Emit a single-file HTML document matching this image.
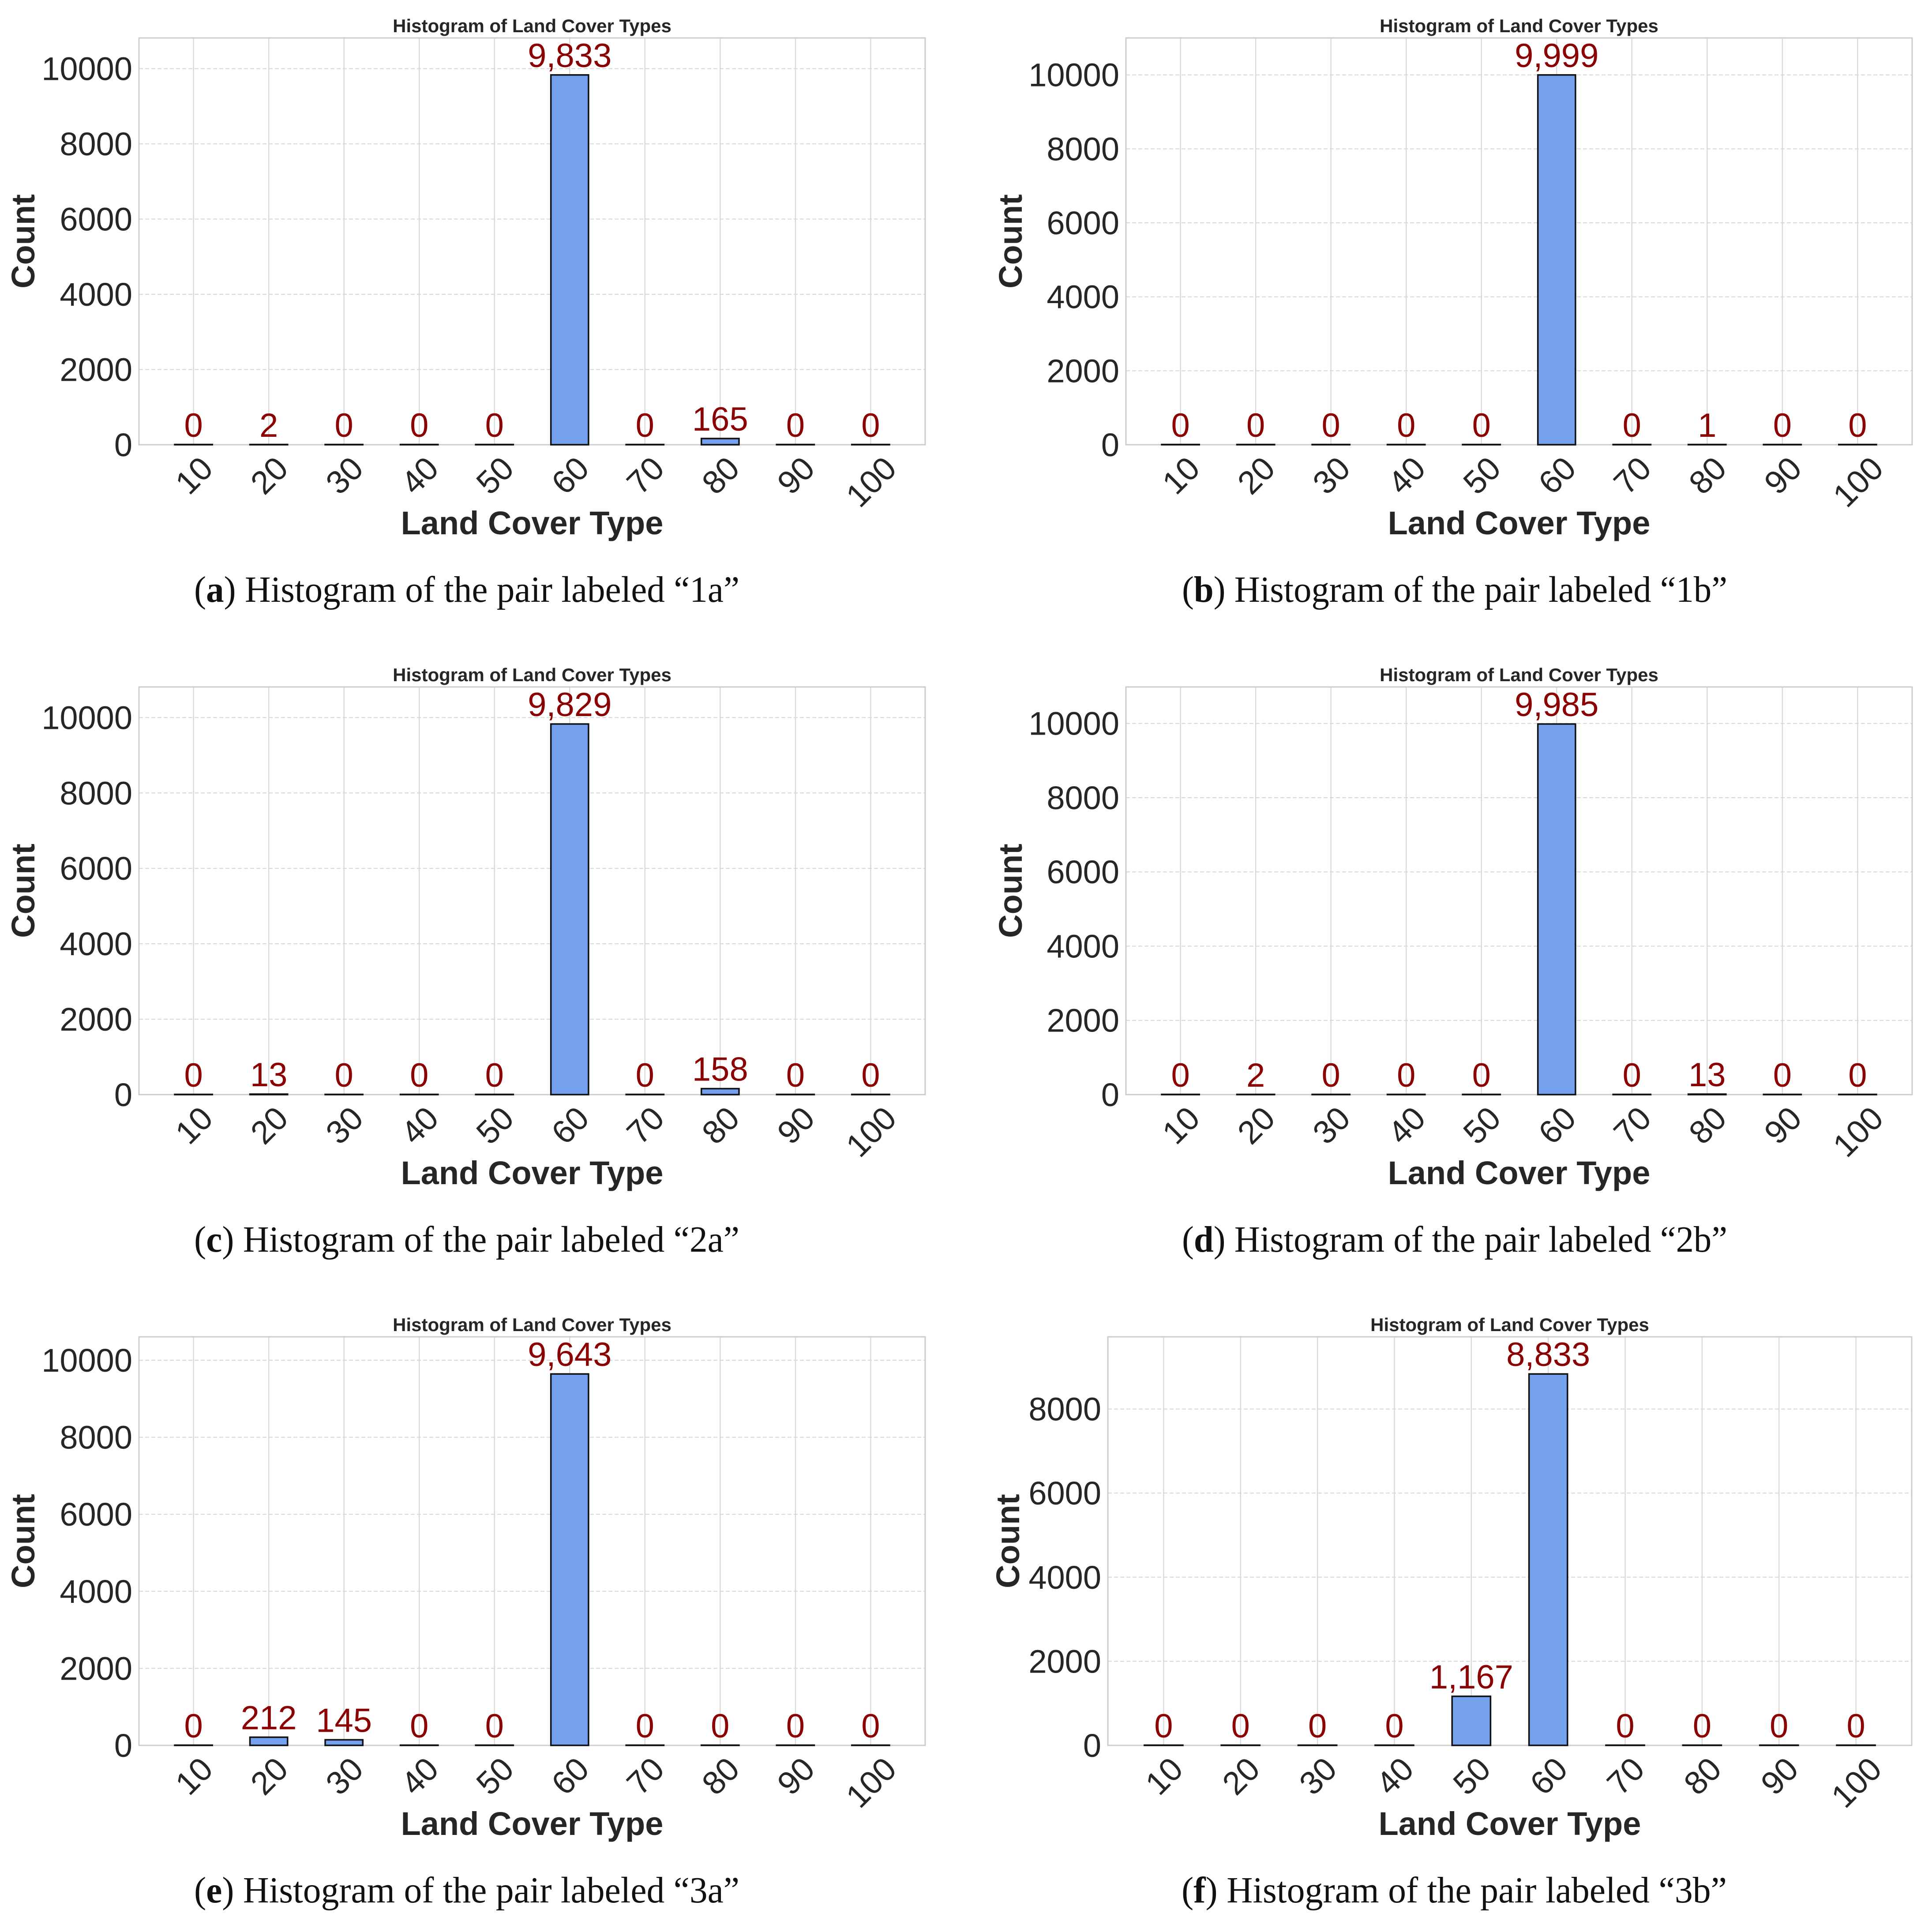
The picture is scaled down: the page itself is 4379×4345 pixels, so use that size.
<!DOCTYPE html>
<html><head><meta charset="utf-8">
<style>
html,body{margin:0;padding:0;background:#fff;}
svg{display:block;}
</style></head>
<body>
<svg id="fig" width="4379" height="4345" viewBox="0 0 4379 4345" xmlns="http://www.w3.org/2000/svg" font-family="'Liberation Sans', Arial, sans-serif"></svg>
<script>
const categories = ["10","20","30","40","50","60","70","80","90","100"];
const values1a = [0,2,0,0,0,9833,0,165,0,0];
const values1b = [0,0,0,0,0,9999,0,1,0,0];
const values2a = [0,13,0,0,0,9829,0,158,0,0];
const values2b = [0,2,0,0,0,9985,0,13,0,0];
const values3a = [0,212,145,0,0,9643,0,0,0,0];
const values3b = [0,0,0,0,1167,8833,0,0,0,0];
const ticks10k = [0,2000,4000,6000,8000,10000];
const ticks8k = [0,2000,4000,6000,8000];
const captionLetters = ["a","b","c","d","e","f"];
const captionLabels = ["1a","1b","2a","2b","3a","3b"];

const NS = "http://www.w3.org/2000/svg";
const svg = document.getElementById("fig");
function mk(tag, attrs, parent){
  const e = document.createElementNS(NS, tag);
  for (const k in attrs) e.setAttribute(k, attrs[k]);
  (parent||svg).appendChild(e);
  return e;
}
function fmt(v){ return v.toLocaleString("en-US"); }

function drawPanel(idx, values, ticks, L, R, T, B, countX, capCx){
  const g = mk("g", {});
  
  
  const n = categories.length;
  const ymax = Math.max(...values) * 1.1;
  const xmin = -0.725, xmax = n - 1 + 0.725;
  const xs = i => L + (i - xmin) / (xmax - xmin) * (R - L);
  const ys = v => B - v / ymax * (B - T);
  const step = xs(1) - xs(0);
  categories.forEach((c, i) => {
    const l = mk("line", {x1: xs(i), x2: xs(i), y1: T, y2: B, stroke: "#d9d9d9", "stroke-width": 2.5}, g);
    
    
  });
  ticks.forEach(t => {
    if (t === 0) return;
    const l = mk("line", {x1: L, x2: R, y1: ys(t), y2: ys(t), stroke: "#d6d6d6", "stroke-width": 2, "stroke-dasharray": "9,5"}, g);
    
    
  });
  const fr = mk("rect", {x: L, y: T, width: R - L, height: B - T, fill: "none", stroke: "#cccccc", "stroke-width": 3}, g);
  
  
  values.forEach((v, i) => {
    const x0 = xs(i) - step * 0.25, w = step * 0.5;
    const y0 = Math.min(ys(v), B - 0.5);
    const b = mk("rect", {x: x0, y: y0, width: w, height: B - y0, fill: "#75a0ee", stroke: "#111", "stroke-width": 3.5}, g);
    
    
    const t = mk("text", {x: xs(i), y: ys(v) - 18, "text-anchor": "middle", "font-size": 76, fill: "#8b0000"}, g);
    t.textContent = fmt(v);
    
    
  });
  ticks.forEach(tv => {
    const t = mk("text", {x: L - 15, y: ys(tv) + 26, "text-anchor": "end", "font-size": 74, fill: "#262626"}, g);
    t.textContent = String(tv);
    
    
  });
  categories.forEach((c, i) => {
    const w = c.length * 0.556 * 74, h = 55;
    const cy = B + 20 + (w + h) / (2 * Math.SQRT2);
    const cx = xs(i);
    const t = mk("text", {x: cx, y: cy + 27, "text-anchor": "middle", "font-size": 74, fill: "#262626", transform: `rotate(-45 ${cx} ${cy})`}, g);
    t.textContent = c;
    
    
  });
  const ti = mk("text", {x: (L + R) / 2, y: T - 13, "text-anchor": "middle", "font-size": 42, "font-weight": "bold", fill: "#262626"}, g);
  ti.textContent = "Histogram of Land Cover Types";
  
  
  const xl = mk("text", {x: (L + R) / 2, y: B + 203, "text-anchor": "middle", "font-size": 74, "font-weight": "bold", fill: "#262626"}, g);
  xl.textContent = "Land Cover Type";
  
  
  const cyy = (T + B) / 2;
  const yl = mk("text", {x: countX + 48, y: cyy, "text-anchor": "middle", "font-size": 74, "font-weight": "bold", fill: "#262626", transform: `rotate(-90 ${countX + 48} ${cyy})`}, g);
  yl.textContent = "Count";
  
  
  const cap = mk("text", {x: capCx, y: B + 356, "text-anchor": "middle", "font-size": 84, fill: "#111", "font-family": "'Liberation Serif', serif", textLength: 1236, lengthAdjust: "spacingAndGlyphs"}, g);
  
  
  const s1 = mk("tspan", {}, cap); s1.textContent = "(";
  const s2 = mk("tspan", {"font-weight": "bold"}, cap); s2.textContent = captionLetters[idx];
  const s3 = mk("tspan", {}, cap); s3.textContent = ") Histogram of the pair labeled \u201C" + captionLabels[idx] + "\u201D";
}

drawPanel(0, values1a, ticks10k, 315, 2097, 86, 1008, 30, 1058);
drawPanel(1, values1b, ticks10k, 2552, 4334, 86, 1008, 2268, 3297);
drawPanel(2, values2a, ticks10k, 315, 2097, 1557, 2481, 30, 1058);
drawPanel(3, values2b, ticks10k, 2552, 4334, 1557, 2481, 2268, 3297);
drawPanel(4, values3a, ticks10k, 315, 2097, 3030, 3956, 30, 1058);
drawPanel(5, values3b, ticks8k, 2511, 4333, 3030, 3956, 2262, 3296);
</script>
</body></html>
